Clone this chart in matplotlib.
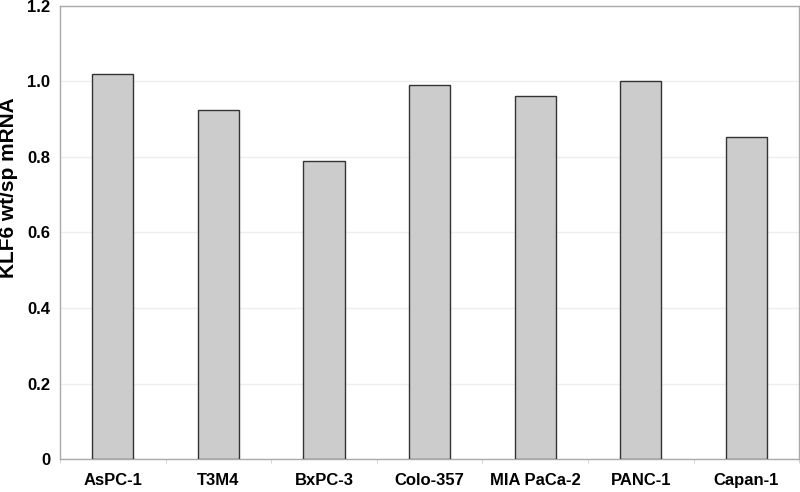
import matplotlib.pyplot as plt
import numpy as np

cell_lines = ["AsPC-1", "T3M4", "BxPC-3", "Colo-357", "MIA PaCa-2", "PANC-1", "Capan-1"]
klf6_ratio = [1.02, 0.925, 0.79, 0.99, 0.962, 1.0, 0.852]
y_ticks = [0, 0.2, 0.4, 0.6, 0.8, 1.0, 1.2]
y_tick_labels = ["0", "0.2", "0.4", "0.6", "0.8", "1.0", "1.2"]

plt.rcParams["font.family"] = ["Liberation Sans", "DejaVu Sans"]

fig = plt.figure(figsize=(8, 4.92), dpi=100)
ax = fig.add_axes([0.075, 0.067, 0.924, 0.921])

x = np.arange(len(cell_lines))
ax.bar(x, klf6_ratio, width=0.39, color="#cccccc", edgecolor="#333333", linewidth=1.0, zorder=3)

ax.set_xlim(-0.5, len(cell_lines) - 0.5)
ax.set_ylim(0, 1.2)
ax.set_yticks(y_ticks)
ax.set_yticklabels(y_tick_labels, fontsize=12, fontweight="bold")
ax.set_xticks(x)
ax.set_xticklabels(cell_lines, fontsize=12, fontweight="bold")
ax.tick_params(axis="y", length=0, pad=7)
ax.tick_params(axis="x", length=0, pad=10)

# small marks between categories on the x axis
ax.set_xticks(np.arange(len(cell_lines) + 1) - 0.5, minor=True)
ax.tick_params(axis="x", which="minor", length=3, color="#cccccc", direction="out")

ax.grid(axis="y", color="#eeeeee", linewidth=1.0, zorder=0)
for s in ax.spines.values():
    s.set_color("#aaaaaa")
    s.set_linewidth(1.0)

ax.set_ylabel("KLF6 wt/sp mRNA", fontsize=15, fontweight="bold")
# label sits a bit above the axis middle in the original
ax.yaxis.set_label_coords(-0.057, 0.60)

fig.savefig("out.png", dpi=100)
